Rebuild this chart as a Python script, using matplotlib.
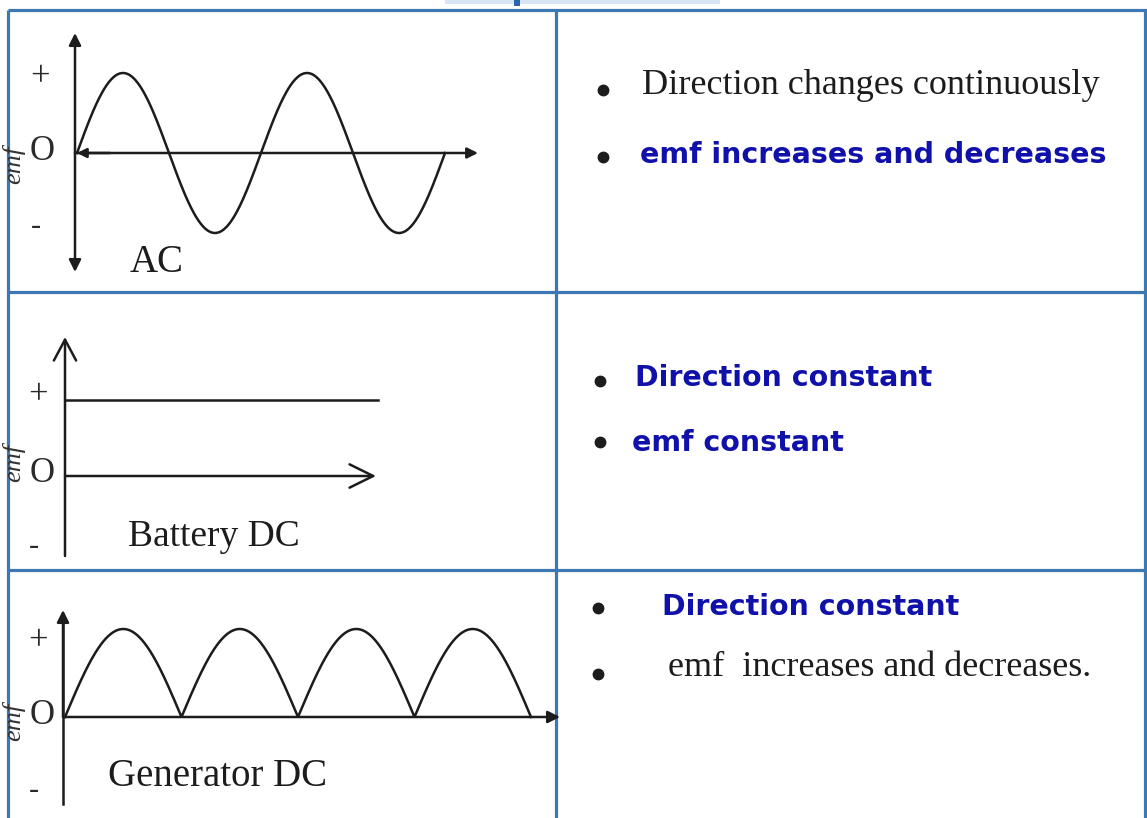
import numpy as np
import matplotlib.pyplot as plt

W, H = 1147, 818

# ---- waveform data (time in cycles / half-cycles, emf in units of the peak) ----
ac_cycles = 2
ac_peak = 1.0
battery_emf = [1.0, 1.0]
battery_time = [0.0, 1.0]
gen_half_cycles = 4
gen_peak = 1.0

panel_names = ['AC', 'Battery DC', 'Generator DC']
level_marks = ['+', 'O', '-']
notes = [
    [('Direction changes continuously', 'plain'), ('emf increases and decreases', 'bold')],
    [('Direction constant', 'bold'), ('emf constant', 'bold')],
    [('Direction constant', 'bold'), ('emf  increases and decreases.', 'plain')],
]

ink = '#1c1c1c'
grid_col = '#3b78b4'
blue = '#1010aa'
serif = 'Liberation Serif'

fig = plt.figure(figsize=(W / 100, H / 100), dpi=100)
fig.patch.set_facecolor('white')
bg = fig.add_axes([0, 0, 1, 1])
bg.set_xlim(0, W)
bg.set_ylim(H, 0)
bg.axis('off')

# cut-off header strip at the very top
bg.add_patch(plt.Rectangle((445, 0), 275, 4, color='#d8e5f4', lw=0))
bg.add_patch(plt.Rectangle((514, 0), 6, 6, color='#2a64ad', lw=0))

# table grid
for y in [10, 292, 570]:
    bg.plot([8, W], [y, y], color=grid_col, lw=2.3, solid_capstyle='butt')
for x in [8, 556, 1145]:
    bg.plot([x, x], [10, H], color=grid_col, lw=2.3, solid_capstyle='butt')


def overlay(origin, sx, sy):
    a = fig.add_axes([0, 0, 1, 1])
    ox, oy = origin
    a.set_xlim(-ox / sx, (W - ox) / sx)
    a.set_ylim((oy - H) / sy, oy / sy)
    a.axis('off')
    a.patch.set_alpha(0)
    return a


def arrow(p0, p1, style, ms=16):
    bg.annotate('', xy=p1, xytext=p0,
                arrowprops=dict(arrowstyle=style, color=ink, lw=1.8,
                                mutation_scale=ms, shrinkA=0, shrinkB=0))


# ---- AC panel ----
arrow((75, 153), (75, 33), '-|>', 18)
arrow((75, 153), (75, 272), '-|>', 18)
arrow((75, 153), (478, 153), '-|>', 16)
arrow((110, 153), (77, 153), '-|>', 14)
ax1 = overlay((77, 153), 184, 80)
t = np.linspace(0, ac_cycles, 500)
ax1.plot(t, ac_peak * np.sin(2 * np.pi * t), color=ink, lw=1.8, clip_on=False)

# ---- Battery DC panel ----
arrow((65, 556), (65, 337), '->,head_length=0.75,head_width=0.4', 20)
arrow((65, 476), (376, 476), '->,head_length=0.85,head_width=0.42', 20)
ax2 = overlay((65, 476), 313, 76)
ax2.plot(battery_time, battery_emf, color=ink, lw=1.8, clip_on=False)

# ---- Generator DC panel ----
bg.plot([63, 63], [620, 804], color=ink, lw=1.8)
arrow((63, 717), (63, 610), '-|>', 18)
arrow((63, 717), (560, 717), '-|>', 18)
ax3 = overlay((65, 717), 116.5, 88)
th = np.linspace(0, gen_half_cycles, 800)
ax3.plot(th, gen_peak * np.abs(np.sin(np.pi * th)), color=ink, lw=1.8, clip_on=False)

# level marks and emf labels
mark_pos = [
    [(40, 78), (42, 152), (36, 226)],
    [(38, 396), (42, 474), (34, 546)],
    [(38, 642), (42, 716), (34, 790)],
]
for row in mark_pos:
    for (x, y), m in zip(row, level_marks):
        bg.text(x, y, m, family=serif, fontsize=25 if m != '-' else 22,
                color='#2a2a2a', ha='center', va='center')
for y in [165, 463, 722]:
    bg.text(14, y, 'emf', family=serif, style='italic', fontsize=19,
            color='#333333', rotation=90, ha='center', va='center')

bg.text(157, 263, panel_names[0], family=serif, fontsize=28, color=ink,
        ha='center', va='center')
bg.text(128, 537, panel_names[1], family=serif, fontsize=27, color=ink,
        ha='left', va='center')
bg.text(108, 776, panel_names[2], family=serif, fontsize=28, color=ink,
        ha='left', va='center')

# right column notes
bullet_pos = [[(603, 90), (603, 157)], [(600, 381), (600, 442)], [(598, 608), (598, 674)]]
text_pos = [[(642, 86), (640, 155)], [(635, 378), (632, 443)], [(662, 607), (668, 667)]]
for r in range(3):
    for (bx, by), (tx, ty), (txt, kind) in zip(bullet_pos[r], text_pos[r], notes[r]):
        bg.plot(bx, by, 'o', color=ink, markersize=7.5)
        if kind == 'plain':
            bg.text(tx, ty, txt, family=serif, fontsize=26, color=ink,
                    ha='left', va='center')
        else:
            bg.text(tx, ty, txt, family='DejaVu Sans', fontweight='bold',
                    fontsize=20.5, color=blue, ha='left', va='center')

fig.savefig('out.png', dpi=100, facecolor='white')
